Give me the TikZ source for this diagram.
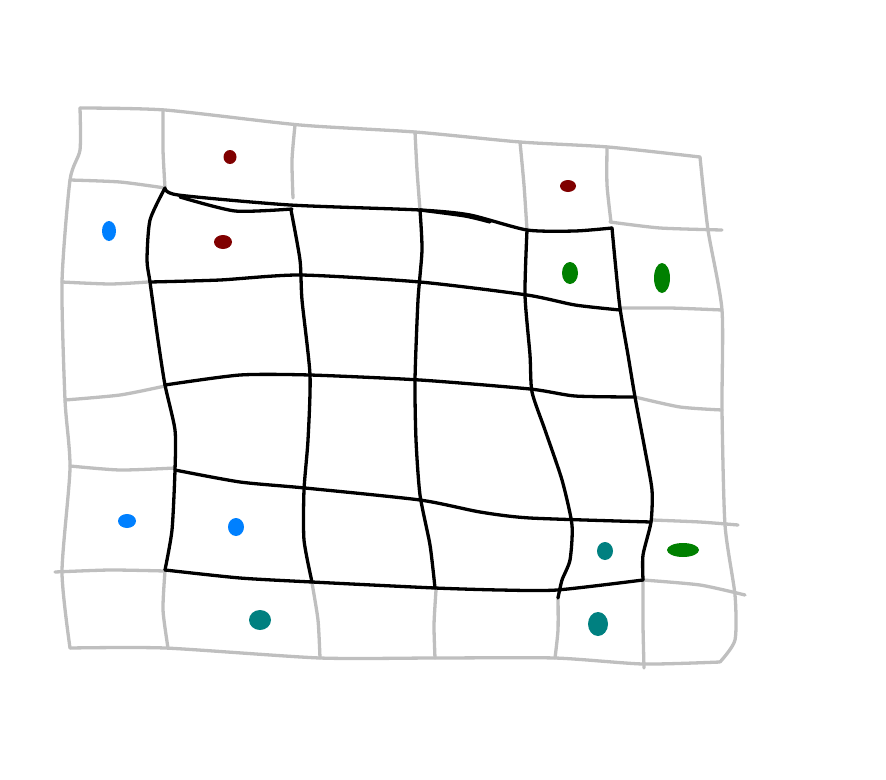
\documentclass[tikz,border=0pt]{standalone}
\begin{document}
\begin{tikzpicture}[x=1pt,y=-1pt,
  gl/.style={draw=black!25,line width=3.3pt,line cap=round,line join=round},
  bl/.style={draw=black,line width=3.3pt,line cap=round,line join=round}]
\useasboundingbox (0,0) rectangle (886,779);
\definecolor{dred}{RGB}{128,0,0}
\definecolor{dblue}{RGB}{0,128,255}
\definecolor{dgreen}{RGB}{0,128,0}
\definecolor{dteal}{RGB}{0,128,128}
% gray outer boundary
\draw[gl] plot[smooth,tension=0.4] coordinates {(80,108) (165,110) (300,125) (415,132) (520,142) (608,147) (700,157)};
\draw[gl] plot[smooth,tension=0.4] coordinates {(700,157) (708,230) (722,310) (722,410) (725,525) (735,595) (735,640) (720,662)};
\draw[gl] plot[smooth,tension=0.4] coordinates {(70,648) (165,648) (320,658) (435,658) (555,658) (643,664) (720,662)};
\draw[gl] plot[smooth,tension=0.4] coordinates {(80,108) (80,150) (70,180) (62,282) (65,400) (70,468) (62,572) (70,648)};
% gray horizontal stubs
\draw[gl] plot[smooth,tension=0.4] coordinates {(70,180) (120,182) (165,188)};
\draw[gl] plot[smooth,tension=0.4] coordinates {(610,222) (660,228) (722,230)};
\draw[gl] plot[smooth,tension=0.4] coordinates {(62,282) (110,284) (148,282)};
\draw[gl] plot[smooth,tension=0.4] coordinates {(620,308) (670,308) (722,310)};
\draw[gl] plot[smooth,tension=0.4] coordinates {(65,400) (120,395) (165,386)};
\draw[gl] plot[smooth,tension=0.4] coordinates {(635,397) (680,407) (722,410)};
\draw[gl] plot[smooth,tension=0.4] coordinates {(70,466) (120,470) (175,468)};
\draw[gl] plot[smooth,tension=0.4] coordinates {(652,520) (700,522) (738,525)};
\draw[gl] plot[smooth,tension=0.4] coordinates {(55,572) (110,570) (165,571)};
\draw[gl] plot[smooth,tension=0.4] coordinates {(643,580) (700,585) (745,595)};
% gray vertical stubs
\draw[gl] plot[smooth,tension=0.4] coordinates {(163,110) (163,150) (165,188)};
\draw[gl] plot[smooth,tension=0.4] coordinates {(295,125) (292,160) (293,198)};
\draw[gl] plot[smooth,tension=0.4] coordinates {(415,132) (417,170) (420,210)};
\draw[gl] plot[smooth,tension=0.4] coordinates {(520,142) (524,185) (527,230)};
\draw[gl] plot[smooth,tension=0.4] coordinates {(607,147) (607,185) (611,222)};
\draw[gl] plot[smooth,tension=0.4] coordinates {(165,571) (163,610) (168,648)};
\draw[gl] plot[smooth,tension=0.4] coordinates {(312,583) (318,620) (320,658)};
\draw[gl] plot[smooth,tension=0.4] coordinates {(436,590) (434,625) (435,658)};
\draw[gl] plot[smooth,tension=0.4] coordinates {(558,596) (558,630) (555,658)};
\draw[gl] plot[smooth,tension=0.4] coordinates {(643,580) (643,625) (644,668)};
% black warped grid: outline
\draw[bl] plot[smooth,tension=0.4] coordinates {(165,188) (178,195) (290,205) (420,210) (470,215) (527,230) (575,231) (612,228)};
\draw[bl] plot[smooth,tension=0.4] coordinates {(180,197) (235,211) (292,209)};
\draw[bl] plot[smooth,tension=0.4] coordinates {(420,210) (465,216) (490,222)};
\draw[bl] plot[smooth,tension=0.4] coordinates {(165,188) (150,220) (147,260) (150,282) (158,340) (165,385) (175,430) (175,470) (172,530) (165,570)};
\draw[bl] plot[smooth,tension=0.4] coordinates {(165,570) (240,578) (312,582) (435,588) (500,590) (557,590) (643,580)};
\draw[bl] plot[smooth,tension=0.4] coordinates {(612,228) (615,260) (620,308) (628,355) (635,397) (645,450) (652,490) (651,522) (643,555) (643,580)};
% black horizontals
\draw[bl] plot[smooth,tension=0.4] coordinates {(150,282) (220,280) (300,275) (420,282) (527,295) (575,305) (620,310)};
\draw[bl] plot[smooth,tension=0.4] coordinates {(165,385) (240,375) (310,375) (420,380) (530,389) (575,396) (635,397)};
\draw[bl] plot[smooth,tension=0.4] coordinates {(175,470) (240,482) (305,488) (420,500) (480,512) (530,518) (651,522)};
% black verticals
\draw[bl] plot[smooth,tension=0.4] coordinates {(291,210) (300,260) (302,300) (310,375) (308,440) (304,490) (304,540) (312,582)};
\draw[bl] plot[smooth,tension=0.4] coordinates {(420,210) (422,250) (418,300) (415,380) (416,440) (420,495) (430,545) (435,588)};
\draw[bl] plot[smooth,tension=0.4] coordinates {(527,230) (525,295) (530,355) (532,392) (545,430) (562,480) (572,525) (570,560) (562,580) (558,598)};
% coloured dots
\fill[dred] (230,157) ellipse (6.5pt and 7pt);
\fill[dred] (568,186) ellipse (8pt and 6pt);
\fill[dred] (223,242) ellipse (9pt and 7pt);
\fill[dblue] (109,231) ellipse (7pt and 10pt);
\fill[dblue] (127,521) ellipse (9pt and 7pt);
\fill[dblue] (236,527) ellipse (8pt and 9pt);
\fill[dgreen] (570,273) ellipse (8pt and 11pt);
\fill[dgreen] (662,278) ellipse (8pt and 15pt);
\fill[dgreen] (683,550) ellipse (16pt and 7pt);
\fill[dteal] (260,620) ellipse (11pt and 10pt);
\fill[dteal] (605,551) ellipse (8pt and 9pt);
\fill[dteal] (598,624) ellipse (10pt and 12pt);
\end{tikzpicture}
\end{document}
